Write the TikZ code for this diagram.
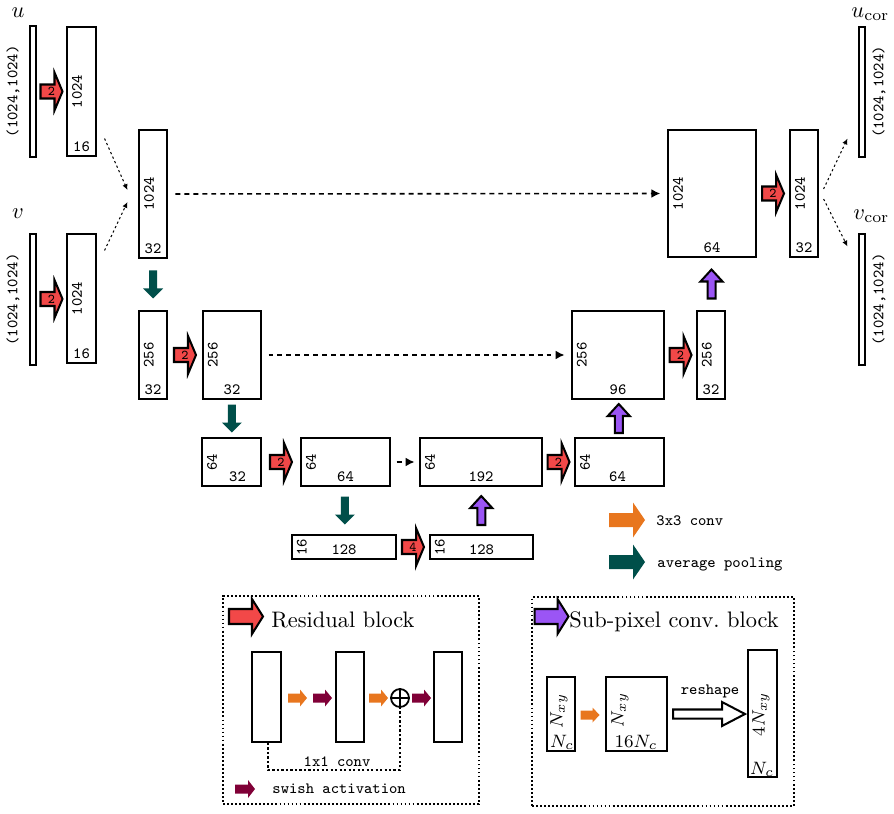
\documentclass[tikz,border=0pt]{standalone}
\usetikzlibrary{calc,fit,arrows.meta}
\definecolor{cred}{RGB}{242,72,72}
\definecolor{cgreen}{RGB}{0,79,74}
\definecolor{corange}{RGB}{232,118,30}
\definecolor{cmaroon}{RGB}{128,0,55}
\definecolor{cpurple}{RGB}{155,85,245}
\tikzset{
  lay/.style={draw, line width=0.5pt, inner sep=0pt, fill=white},
  pbox/.style={draw, line width=0.75pt, inner sep=0pt},
  bar/.style={draw, line width=0.5pt, inner sep=0pt},
  rotlab/.style={rotate=90, font=\ttfamily\scriptsize, inner sep=0pt},
  botlab/.style={font=\ttfamily\scriptsize, inner sep=0pt},
  ttlab/.style={font=\ttfamily\scriptsize, inner sep=0pt},
  arrlab/.style={font=\ttfamily\fontsize{6}{6}\selectfont, inner sep=0pt},
  resarr/.style={fill=cred, draw=black, line width=0.9pt, line join=miter},
  suparr/.style={fill=cpurple, draw=black, line width=0.9pt, line join=miter},
  poolarr/.style={fill=cgreen},
  convarr/.style={fill=corange},
  swarr/.style={fill=cmaroon},
  openarr/.style={fill=white, draw=black, line width=0.9pt, line join=miter},
  longdash/.style={line width=0.7pt, dash pattern=on 2.2pt off 1.8pt, -{Latex[length=4pt,width=4pt]}},
  diagdot/.style={line width=0.45pt, dash pattern=on 1pt off 1.2pt, -{Latex[length=2.6pt,width=2.4pt]}},
  panel/.style={draw, line width=0.6pt, dash pattern=on 0.8pt off 1pt},
  skipline/.style={line width=0.6pt, dash pattern=on 1pt off 1pt},
  opl/.style={circle, draw, line width=0.8pt, minimum size=8pt, inner sep=0pt},
}
% block arrow centred at coordinate #2, rotated by #3, length #4, body #5, head #6, head length #7
\newcommand\blkarrow[7]{%
  \path[#1, shift={(#2)}, rotate=#3]
    ({-#4/2},{-#5/2}) -- ({#4/2-#7},{-#5/2}) -- ({#4/2-#7},{-#6/2}) -- ({#4/2},0)
    -- ({#4/2-#7},{#6/2}) -- ({#4/2-#7},{#5/2}) -- ({-#4/2},{#5/2}) -- cycle;}
\newcommand\resA[4]{% name, from, to, label
  \coordinate (#1) at ($(#2.east)!0.5!(#3.west)$);
  \blkarrow{resarr}{#1}{0}{22}{14}{38}{8}
  \node[arrlab] (#1-l) at (#1) {#4};}
\newcommand\poolA[3]{%
  \coordinate (#1) at ($(#2.south)!0.5!(#3.north)$);
  \blkarrow{poolarr}{#1}{-90}{28}{8}{20}{10}}
\newcommand\supA[3]{%
  \coordinate (#1) at ($(#2.north)!0.5!(#3.south)$);
  \blkarrow{suparr}{#1}{90}{29}{8}{22}{12}}
\newcommand\lyr[8][0]{%
  \node[lay, fit={(#3,#4)(#5,#6)}] (#2) {};
  \node[rotlab] (#2-s) at ($(#2.west)+(10.5,0)$) {#7};
  \node[botlab] (#2-b) at ($(#2.south)+(#1,-10)$) {#8};}
\begin{document}
\begin{tikzpicture}[x=0.446pt, y=-0.446pt]
\useasboundingbox (0,0) rectangle (894,813);

% inputs
\node[bar, fit={(30,26)(36,157)}] (ubar) {};
\node[bar, fit={(30,234)(36,365)}] (vbar) {};
\node[rotlab] (ubar-l) at (13,91.5) {(1024,1024)};
\node[rotlab] (vbar-l) at (13,299.5) {(1024,1024)};
\node[inner sep=0pt] (ulab) at (18,13) {$u$};
\node[inner sep=0pt] (vlab) at (18,214) {$v$};

% outputs
\node[bar, fit={(859,27)(865,157)}] (ucbar) {};
\node[bar, fit={(859,234)(865,365)}] (vcbar) {};
\node[rotlab] (ucbar-l) at (879,92) {(1024,1024)};
\node[rotlab] (vcbar-l) at (879,299.5) {(1024,1024)};
\node[inner sep=0pt, anchor=west] (uclab) at (851,14) {$u_{\mathrm{cor}}$};
\node[inner sep=0pt, anchor=west] (vclab) at (853,216) {$v_{\mathrm{cor}}$};

% layers
\lyr{u1}{67}{27}{96}{156}{1024}{16}
\lyr{v1}{67}{234}{96}{363}{1024}{16}
\lyr{e1}{139}{130}{167}{258}{1024}{32}
\lyr{e2}{139}{311}{167}{399}{256}{32}
\lyr{e2b}{203}{311}{261}{399}{256}{32}
\lyr[6]{e3}{202}{438}{261}{486}{64}{32}
\lyr{e3b}{301}{438}{390}{486}{64}{64}
\lyr{b1}{292}{535}{396}{559}{16}{128}
\lyr{b2}{430}{535}{533}{559}{16}{128}
\lyr{d3}{420}{438}{542}{486}{64}{192}
\lyr[-2]{d3b}{575}{438}{664}{486}{64}{64}
\lyr{d2}{572}{311}{664}{399}{256}{96}
\lyr{d2b}{697}{311}{725}{399}{256}{32}
\lyr{d1}{668}{130}{756}{257}{1024}{64}
\lyr{d1b}{790}{130}{818}{257}{1024}{32}

% residual arrows
\resA{ra1}{ubar}{u1}{2}
\resA{ra2}{vbar}{v1}{2}
\resA{ra3}{e2}{e2b}{2}
\resA{ra4}{e3}{e3b}{2}
\resA{ra5}{b1}{b2}{4}
\resA{ra6}{d3}{d3b}{2}
\resA{ra7}{d2}{d2b}{2}
\resA{ra8}{d1}{d1b}{2}

% pooling arrows
\poolA{pa1}{e1}{e2}
\poolA{pa2}{e2b}{e3}
\poolA{pa3}{e3b}{b1}

% sub-pixel arrows
\supA{sa1}{b2}{d3}
\supA{sa2}{d3b}{d2}
\supA{sa3}{d2b}{d1}

% skip connections
\draw[longdash, shorten <=3.5pt, shorten >=3.2pt] (e1.east) -- (d1.west);
\draw[longdash, shorten <=3.1pt, shorten >=3.1pt] (e2b.east) -- (d2.west);
\draw[longdash, shorten <=2.7pt, shorten >=2.2pt] (e3b.east) -- (d3.west);

% merging / splitting
\coordinate (m1s) at ($(u1.south east)+(8,-18)$);
\coordinate (m1e) at ($(e1.west)+(-11,-4)$);
\coordinate (m2s) at ($(v1.north east)+(8,17)$);
\coordinate (m2e) at ($(e1.west)+(-11,8)$);
\draw[diagdot] (m1s) -- (m1e);
\draw[diagdot] (m2s) -- (m2e);
\coordinate (s1s) at ($(d1b.east)+(5,-4.5)$);
\coordinate (s1e) at ($(ucbar.south west)+(-11,-19)$);
\coordinate (s2s) at ($(d1b.east)+(5,5.5)$);
\coordinate (s2e) at ($(vcbar.north west)+(-11,13)$);
\draw[diagdot] (s1s) -- (s1e);
\draw[diagdot] (s2s) -- (s2e);

% legend
\coordinate (lg1) at (627,520);
\blkarrow{convarr}{lg1}{0}{36}{14}{35}{12}
\node[ttlab, anchor=base west] (lg1-t) at (656,525) {3x3 conv};
\coordinate (lg2) at (627,562);
\blkarrow{poolarr}{lg2}{0}{36}{14}{35}{12}
\node[ttlab, anchor=base west] (lg2-t) at (657,567) {average pooling};

% residual block panel
\node[panel, inner sep=0pt, fit={(223,596)(479,804)}] (rpanel) {};
\coordinate (rp-a) at (246,616.5);
\blkarrow{resarr}{rp-a}{0}{34}{15}{35}{11}
\node[inner sep=0pt, anchor=base west] (rp-t) at (271,627) {Residual block};
\node[pbox, fit={(252,652)(281,742)}] (R1) {};
\node[pbox, fit={(336,652)(364,742)}] (R2) {};
\node[pbox, fit={(434,652)(462,742)}] (R3) {};
\coordinate (rc1) at (297.5,698);
\blkarrow{convarr}{rc1}{0}{19}{9}{17}{7}
\coordinate (rs1) at (322.5,698);
\blkarrow{swarr}{rs1}{0}{19}{9}{17}{7}
\coordinate (rc2) at (378.5,698);
\blkarrow{convarr}{rc2}{0}{19}{9}{17}{7}
\node[opl] (op) at (400,698) {};
\draw[line width=0.8pt] (op.north) -- (op.south) (op.west) -- (op.east);
\coordinate (rs2) at (421.5,698);
\blkarrow{swarr}{rs2}{0}{19}{9}{17}{7}
\draw[skipline] ($(R1.south)+(1.5,0)$) -- ++(0,27) -| (op.south);
\node[ttlab, anchor=base] (skip-t) at (337,766) {1x1 conv};
\coordinate (sw) at (245,789);
\blkarrow{swarr}{sw}{0}{20}{9}{18}{7}
\node[ttlab, anchor=base west] (sw-t) at (272,793) {swish activation};

% sub-pixel panel
\node[panel, inner sep=0pt, fit={(532,597)(794,806)}] (spanel) {};
\coordinate (sp-a) at (551.5,616.5);
\blkarrow{suparr}{sp-a}{0}{34}{15}{35}{11}
\node[inner sep=0pt, anchor=base west] (sp-t) at (569,627) {Sub-pixel conv.\ block};
\node[pbox, fit={(547,677)(575,751)}] (S1) {};
\node[pbox, fit={(606,677)(667,751)}] (S2) {};
\node[pbox, fit={(748,650)(777,777)}] (S3) {};
\node[rotate=90, font=\footnotesize, inner sep=0pt] (S1-s) at (559,711) {$N_{xy}$};
\node[font=\footnotesize, inner sep=0pt] (S1-b) at (562,742) {$N_c$};
\node[rotate=90, font=\footnotesize, inner sep=0pt] (S2-s) at (620,710) {$N_{xy}$};
\node[font=\footnotesize, inner sep=0pt] (S2-b) at (636,742) {$16N_c$};
\node[rotate=90, font=\footnotesize, inner sep=0pt] (S3-s) at (761,714) {$4N_{xy}$};
\node[font=\footnotesize, inner sep=0pt] (S3-b) at (762,769) {$N_c$};
\coordinate (sc) at (590,715);
\blkarrow{convarr}{sc}{0}{19}{9}{15}{7}
\coordinate (rsh) at (709,714);
\blkarrow{openarr}{rsh}{0}{72}{9}{24}{23}
\node[ttlab, anchor=base] (rsh-t) at (710,694) {reshape};
\end{tikzpicture}
\end{document}
